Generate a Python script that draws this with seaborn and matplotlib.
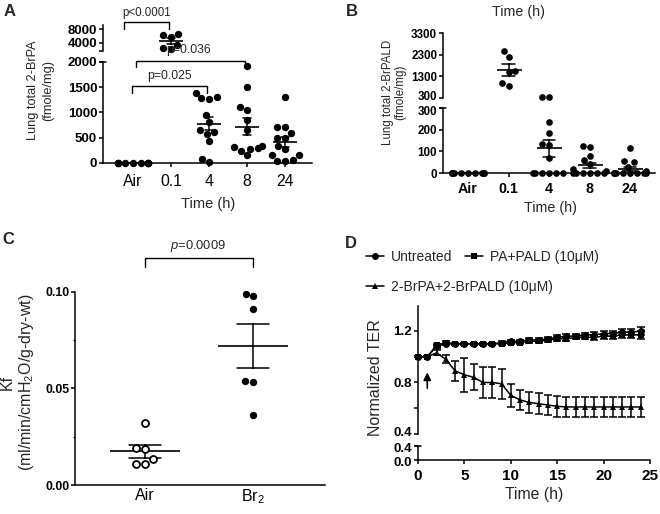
import warnings
warnings.filterwarnings("ignore")
import numpy as np
import pandas as pd
import matplotlib
matplotlib.use("Agg")
import matplotlib.pyplot as plt
import matplotlib.transforms as mtrans
from matplotlib.lines import Line2D
from matplotlib.transforms import blended_transform_factory
import seaborn as sns

# ---------------- data ----------------
a_categories = ["Air", "0.1", "4", "8", "24"]
a_air = [0] * 10
a_t01 = [5800, 6300, 6700, 3500, 2200, 2600]
a_t4 = [1380, 1300, 1280, 1270, 950, 820, 650, 620, 580, 440, 80, 10]
a_t8 = [1920, 1500, 1100, 1040, 850, 650, 330, 310, 280, 230, 150, 300]
a_t24 = [1300, 720, 710, 600, 500, 500, 330, 270, 150, 150, 60, 30, 40]
a_top_ticks = [4000, 8000]
a_bottom_ticks = [0, 500, 1000, 1500, 2000]
a_pvalues = ["p<0.0001", "p=0.036", "p=0.025"]

b_categories = ["Air", "0.1", "4", "8", "24"]
b_air = [0] * 10
b_t01 = [2450, 2200, 1550, 1500, 850, 1000]
b_t4 = [365, 355, 236, 186, 131, 135, 70, 0, 0, 0, 0, 0, 0]
b_t8 = [125, 120, 80, 60, 40, 20, 10, 0, 0, 0, 0, 0, 0]
b_t24 = [115, 55, 50, 30, 10, 0, 0, 0, 0, 0, 0, 0, 0]
b_top_ticks = [300, 1300, 2300, 3300]
b_bottom_ticks = [0, 100, 200, 300]

c_categories = ["Air", "Br$_2$"]
c_air = [0.0322, 0.019, 0.0185, 0.0133, 0.0107, 0.0107]
c_br2 = [0.098, 0.099, 0.091, 0.054, 0.0535, 0.036]
c_ticks = [0.00, 0.05, 0.10]
c_pvalue = "$\\it{p}$=0.0009"

d_time = list(range(25))
d_untreated = [1.00, 1.00, 1.08, 1.10, 1.10, 1.10, 1.10, 1.10, 1.10, 1.11, 1.12, 1.12, 1.13,
               1.13, 1.14, 1.15, 1.16, 1.16, 1.17, 1.17, 1.18, 1.18, 1.19, 1.19, 1.20]
d_untreated_sem = [0.005, 0.005, 0.01, 0.01, 0.01, 0.01, 0.01, 0.01, 0.01, 0.01, 0.01, 0.01, 0.012,
                   0.012, 0.012, 0.015, 0.015, 0.015, 0.015, 0.02, 0.02, 0.022, 0.025, 0.025, 0.03]
d_pa = [1.00, 1.00, 1.09, 1.11, 1.10, 1.10, 1.10, 1.10, 1.10, 1.10, 1.11, 1.11, 1.12,
        1.12, 1.13, 1.14, 1.14, 1.15, 1.15, 1.15, 1.16, 1.16, 1.17, 1.17, 1.17]
d_pa_sem = [0.005, 0.005, 0.01, 0.01, 0.01, 0.01, 0.01, 0.01, 0.01, 0.01, 0.01, 0.01, 0.012,
            0.012, 0.012, 0.015, 0.015, 0.015, 0.015, 0.02, 0.02, 0.022, 0.025, 0.025, 0.03]
d_brpa = [1.00, 1.00, 1.03, 0.98, 0.89, 0.86, 0.84, 0.80, 0.80, 0.79, 0.70, 0.665, 0.645,
          0.635, 0.625, 0.615, 0.61, 0.61, 0.61, 0.61, 0.61, 0.61, 0.61, 0.61, 0.61]
d_brpa_sem = [0.005, 0.005, 0.02, 0.03, 0.077, 0.13, 0.10, 0.12, 0.12, 0.115, 0.09, 0.08, 0.08,
              0.08, 0.08, 0.08, 0.08, 0.08, 0.08, 0.08, 0.08, 0.08, 0.08, 0.08, 0.08]
d_labels = ["Untreated", "PA+PALD (10\u03bcM)", "2-BrPA+2-BrPALD (10\u03bcM)"]
d_top_ticks = [0.4, 0.8, 1.2]
d_bottom_ticks = [0.0, 0.4]
d_xticks = [0, 5, 10, 15, 20, 25]

# ---------------- style ----------------
sns.set_theme(style="ticks", rc={
    "axes.edgecolor": "black", "axes.linewidth": 1.1,
    "xtick.color": "black", "ytick.color": "black",
    "xtick.major.width": 1.1, "ytick.major.width": 1.1,
    "xtick.major.size": 3.2, "ytick.major.size": 3.2,
    "xtick.major.pad": 3.5, "ytick.major.pad": 1.0,
})
plt.rcParams["font.family"] = ["Liberation Sans", "DejaVu Sans"]
plt.rcParams["mathtext.fontset"] = "custom"
plt.rcParams["mathtext.rm"] = "Liberation Sans"
plt.rcParams["mathtext.it"] = "Liberation Sans:italic"
plt.rcParams["mathtext.bf"] = "Liberation Sans:bold"

W, H = 660, 514
fig = plt.figure(figsize=(W / 100, H / 100), dpi=100)


def fx(x):
    return x / W


def fy(y):
    return 1 - y / H


def seg_axes(x0, x1, ytop, ybot, vtop, vbot, pad_top=0.0, pad_bot=0.0):
    top = ytop - pad_top
    bot = ybot + pad_bot
    ax = fig.add_axes([x0 / W, 1 - bot / H, (x1 - x0) / W, (bot - top) / H])
    s = (vtop - vbot) / (ybot - ytop)
    ax.set_ylim(vbot - pad_bot * s, vtop + pad_top * s)
    ax.spines[["top", "right"]].set_visible(False)
    ax.spines["left"].set_bounds(vbot, vtop)
    ax.spines["bottom"].set_position(("data", vbot))
    ax.set_facecolor("none")
    return ax


def hide_x(ax):
    ax.spines["bottom"].set_visible(False)
    ax.tick_params(axis="x", bottom=False, labelbottom=False)
    ax.set_xlabel("")


def crossbar(x, y, half=3.0):
    fig.add_artist(Line2D([fx(x - half), fx(x + half)], [fy(y), fy(y)], color="black", lw=1.1))


def ftext(x, y, s, **kw):
    kw.setdefault("ha", "center")
    kw.setdefault("va", "center")
    fig.text(fx(x), fy(y), s, **kw)


def bracket(ax, xa, xb, ytop, ybot, lw=1.0):
    tr = blended_transform_factory(ax.transData, fig.transFigure)
    fig.add_artist(Line2D([xa, xa, xb, xb], [fy(ybot), fy(ytop), fy(ytop), fy(ybot)],
                          transform=tr, color="black", lw=lw, clip_on=False))


def nudge_ytick_label(ax, index, dy_px):
    lab = ax.yaxis.get_major_ticks()[index].label1
    lab.set_transform(lab.get_transform() +
                      mtrans.ScaledTranslation(0, dy_px / 100, fig.dpi_scale_trans))


def long_df(cats, groups, name):
    return pd.DataFrame({"time": np.repeat(cats, [len(g) for g in groups]),
                         name: np.concatenate([np.asarray(g, float) for g in groups])})


def points(ax, df, y, order, size, **kw):
    n0 = len(ax.collections)
    sns.swarmplot(data=df, x="time", y=y, order=order, color="black", size=size,
                  linewidth=0, ax=ax, **kw)
    for c in ax.collections[n0:]:
        c.set_clip_on(False)


def means(ax, df, y, order, width, capsize):
    sns.pointplot(data=df, x="time", y=y, order=order, errorbar="se", color="black",
                  marker="_", markersize=width, markeredgewidth=1.2, linestyle="none",
                  capsize=capsize, err_kws={"linewidth": 1.1}, ax=ax)


# ---------------- panel A ----------------
a_df = long_df(a_categories, [a_air, a_t01, a_t4, a_t8, a_t24], "value")
a_xlim = ((103 - 133) / 38, (312 - 133) / 38)
axA_t = seg_axes(103, 312, 25, 51, 9143, 1714)
axA_b = seg_axes(103, 312, 62, 163, 2000, 0, pad_bot=6)
points(axA_t, a_df[a_df.value > 2000], "value", a_categories, 5.3)
points(axA_b, a_df[a_df.value <= 2000], "value", a_categories, 5.3)
for ax in (axA_t, axA_b):
    means(ax, a_df, "value", a_categories, 17, 0.22)
    ax.set_xlim(*a_xlim)
    ax.set_ylabel("")
axA_t.set_ylim(1714, 9143)
axA_t.set_yticks(a_top_ticks)
axA_t.set_yticks([1714], minor=True)
axA_t.tick_params(axis="y", which="minor", length=3.2, width=1.1)
axA_t.set_yticklabels([str(t) for t in a_top_ticks], fontsize=9.5, fontweight="bold")
hide_x(axA_t)
axA_b.set_yticks(a_bottom_ticks)
axA_b.set_yticklabels([str(t) for t in a_bottom_ticks], fontsize=9.5, fontweight="bold")
axA_b.set_xticks(range(len(a_categories)))
axA_b.set_xticklabels(a_categories, fontsize=11.3)
axA_b.tick_params(axis="x", pad=4.5)
axA_b.set_xlabel("")
crossbar(103, 62)
ftext(41, 90, "Lung total 2-BrPA\n(fmole/mg)", rotation=90, fontsize=9.2, linespacing=1.35)
ftext(208, 204, "Time (h)", fontsize=10.5)
bracket(axA_b, -0.24, 0.95, 22, 29)
bracket(axA_b, 0.08, 2.95, 61, 67)
bracket(axA_b, -0.03, 1.95, 86, 93)
ftext(147, 13, a_pvalues[0], fontsize=8.3)
ftext(188, 50, a_pvalues[1], fontsize=8.8)
ftext(169, 76, a_pvalues[2], fontsize=8.8)
ftext(10, 12, "A", fontsize=12, fontweight="bold")

# ---------------- panel B ----------------
b_df = long_df(b_categories, [b_air, b_t01, b_t4, b_t8, b_t24], "value")
b_xlim = ((443 - 468) / 40.5, (655 - 468) / 40.5)
axB_t = seg_axes(443, 655, 33, 98, 3300, 300)
axB_b = seg_axes(443, 655, 108, 173, 300, 0, pad_bot=6)
points(axB_t, b_df[b_df.value > 300], "value", b_categories, 4.8)
points(axB_b, b_df[b_df.value <= 300], "value", b_categories, 4.8)
for ax in (axB_t, axB_b):
    means(ax, b_df, "value", b_categories, 18, 0.3)
    ax.set_xlim(*b_xlim)
    ax.set_ylabel("")
axB_t.set_ylim(300, 3300)
axB_t.set_yticks(b_top_ticks)
axB_t.set_yticklabels([str(t) for t in b_top_ticks], fontsize=8.4, fontweight="bold")
hide_x(axB_t)
axB_b.set_yticks(b_bottom_ticks)
axB_b.set_yticklabels([str(t) for t in b_bottom_ticks], fontsize=8.4, fontweight="bold")
nudge_ytick_label(axB_t, 0, 2.5)
nudge_ytick_label(axB_b, 3, -2.5)
axB_b.set_xticks(range(len(b_categories)))
axB_b.set_xticklabels(b_categories, fontsize=10.3, fontweight="bold")
axB_b.tick_params(axis="x", pad=3.2)
axB_b.set_xlabel("")
crossbar(443, 108)
ftext(394, 92, "Lung total 2-BrPALD\n(fmole/mg)", rotation=90, fontsize=8.3, linespacing=1.1)
ftext(518, 12, "Time (h)", fontsize=10.3)
ftext(550, 208, "Time (h)", fontsize=10.3)
ftext(352, 12, "B", fontsize=12, fontweight="bold")

# ---------------- panel C ----------------
c_df = long_df(c_categories, [c_air, c_br2], "kf")
axC = seg_axes(75, 325, 291.7, 485, 0.10, 0.0)
points(axC, c_df[c_df.time == c_categories[1]], "kf", c_categories, 5.3)
n0 = len(axC.collections)
sns.swarmplot(data=c_df[c_df.time == c_categories[0]], x="time", y="kf", order=c_categories,
              color="white", edgecolor="black", linewidth=1.3, size=5.0, ax=axC)
for c in axC.collections[n0:]:
    c.set_clip_on(False)
means(axC, c_df, "kf", c_categories, 50, 0.3)
axC.set_xlim((75 - 145) / 108, (325 - 145) / 108)
axC.set_ylim(0, 0.10)
axC.set_yticks(c_ticks)
axC.set_yticklabels([f"{t:.2f}" for t in c_ticks], fontsize=8.8, fontweight="bold")
axC.set_yticks([0.025, 0.075], minor=True)
axC.tick_params(axis="y", which="minor", length=1.8, width=0.8)
axC.set_xticks(range(len(c_categories)))
axC.set_xticklabels(c_categories, fontsize=11.5)
axC.tick_params(axis="x", length=0, pad=2)
axC.set_xlabel("")
axC.set_ylabel("")
ftext(18, 382, "Kf\n(ml/min/cmH$_2$O/g-dry-wt)", rotation=90, fontsize=11.5, linespacing=1.15)
bracket(axC, 0, 1, 258, 267)
ftext(198, 246, c_pvalue, fontsize=9.3)
ftext(8, 239, "C", fontsize=12, fontweight="bold")

# ---------------- panel D ----------------
axD_t = seg_axes(418, 650, 306, 434, 1.394, 0.4)
axD_b = seg_axes(418, 650, 446, 460, 0.4, 0.0)
series = [(d_untreated, d_untreated_sem, "o", 5.0),
          (d_pa, d_pa_sem, "s", 5.0),
          (d_brpa, d_brpa_sem, "^", 4.0)]
for (vals, sem, mk, ms), lab in zip(series, d_labels):
    axD_t.errorbar(d_time, vals, yerr=sem, fmt="none", ecolor="black", elinewidth=1.1,
                   capsize=2.6, capthick=1.1, clip_on=False)
    sns.lineplot(x=d_time, y=vals, marker=mk, markersize=ms, markeredgewidth=0,
                 color="black", linewidth=1.1, label=lab, ax=axD_t)
for ln in axD_t.lines:
    ln.set_clip_on(False)
for c in axD_t.collections:
    c.set_clip_on(False)
handles, labels = axD_t.get_legend_handles_labels()
if axD_t.get_legend() is not None:
    axD_t.get_legend().remove()
leg_kw = dict(loc="upper left", frameon=False, fontsize=10, handlelength=1.3,
              handletextpad=0.5, columnspacing=0.9, borderpad=0, borderaxespad=0)
leg1 = fig.legend(handles[:2], labels[:2], ncol=2, bbox_to_anchor=(fx(366), fy(250)), **leg_kw)
leg2 = fig.legend(handles[2:], labels[2:], ncol=1, bbox_to_anchor=(fx(366), fy(280)), **leg_kw)
for ax in (axD_t, axD_b):
    ax.set_xlim(0, 25)
axD_t.set_ylim(0.4, 1.394)
axD_t.set_yticks(d_top_ticks)
axD_t.set_yticklabels([f"{t:.1f}" for t in d_top_ticks], fontsize=9.6, fontweight="bold")
axD_t.set_yticks([0.6, 1.0], minor=True)
axD_t.tick_params(axis="y", which="minor", length=3.2, width=1.1)
hide_x(axD_t)
axD_t.set_ylabel("")
axD_b.set_yticks(d_bottom_ticks)
axD_b.set_yticklabels([f"{t:.1f}" for t in d_bottom_ticks], fontsize=9.6, fontweight="bold")
nudge_ytick_label(axD_t, 0, 2.0)
nudge_ytick_label(axD_b, 1, -1.0)
nudge_ytick_label(axD_b, 0, -1.5)
axD_b.set_xticks(d_xticks)
axD_b.set_xticklabels([str(t) for t in d_xticks], fontsize=11, fontweight="bold")
axD_b.tick_params(axis="x", pad=3.0)
crossbar(418, 446)
axD_t.annotate("", xy=(1, 0.90), xytext=(1, 0.735),
               arrowprops=dict(arrowstyle="-|>", lw=1.2, color="black", mutation_scale=11))
ftext(375, 378, "Normalized TER", rotation=90, fontsize=11.5)
ftext(534, 494, "Time (h)", fontsize=11.3)
ftext(351, 244, "D", fontsize=12, fontweight="bold")

fig.savefig("out.png", dpi=100)
